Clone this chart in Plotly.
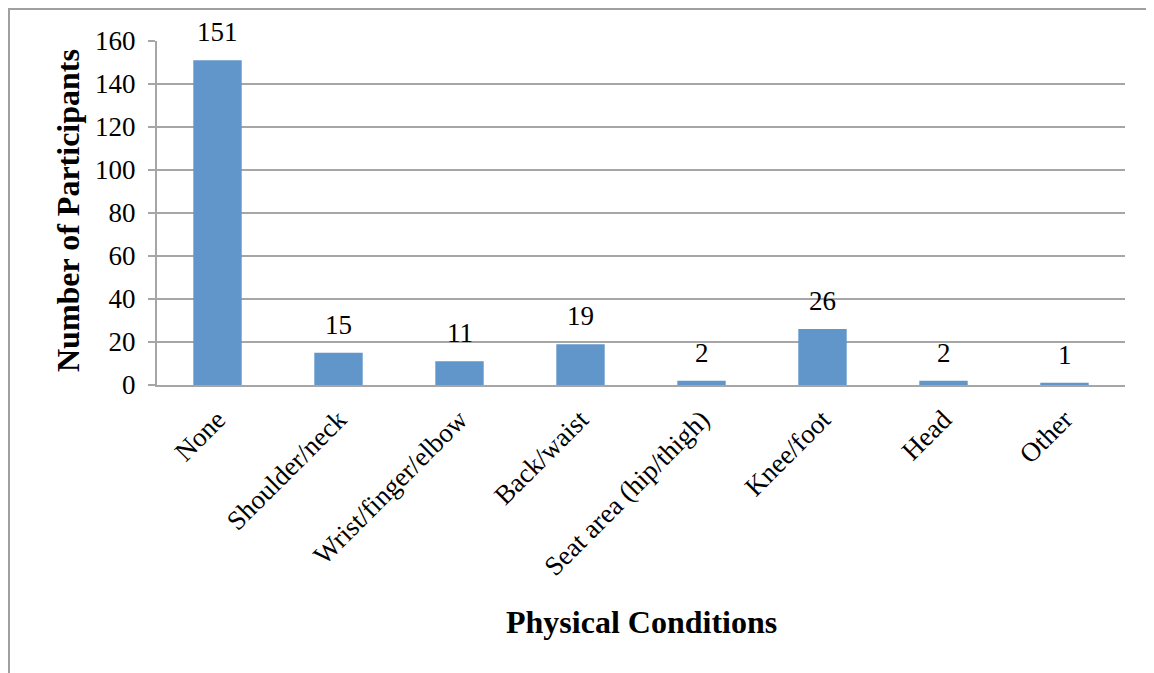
import plotly.graph_objects as go

categories = ["None", "Shoulder/neck", "Wrist/finger/elbow", "Back/waist",
              "Seat area (hip/thigh)", "Knee/foot", "Head", "Other"]
values = [151, 15, 11, 19, 2, 26, 2, 1]
y_ticks = [0, 20, 40, 60, 80, 100, 120, 140, 160]

FONT = "Liberation Serif, Times New Roman, serif"
GRID = "#a6a6a6"
BAR = "#6196ca"
OFF = 8  # page body margin

fig = go.Figure()
fig.add_trace(go.Bar(x=categories, y=values, marker=dict(color=BAR, line=dict(width=0)),
                     hoverinfo="x+y"))

for c, v in zip(categories, values):
    fig.add_annotation(x=c, y=v, text=str(v), showarrow=False, yanchor="middle",
                       yshift=28, font=dict(family=FONT, size=27, color="#000"))

W, H = 1146, 665
# screen-space plot area: left 157, right 1125, top 41, bottom 385
L = 157 - OFF
R = W + OFF - 1125
T = 41 - OFF
B = H + OFF - 385
pw, ph = W - L - R, H - T - B

def px(x):
    return (x - OFF - L) / pw

def py(y):
    return (H + OFF - B - y) / ph

fig.add_annotation(x=px(641), y=py(622), xref="paper", yref="paper",
                   xanchor="center", yanchor="middle",
                   text="<b>Physical Conditions</b>", showarrow=False,
                   font=dict(family=FONT, size=32, color="#000"))
fig.add_annotation(x=px(68), y=py(211), xref="paper", yref="paper",
                   xanchor="center", yanchor="middle",
                   text="<b>Number of Participants</b>", showarrow=False, textangle=-90,
                   font=dict(family=FONT, size=32, color="#000"))

# outer chart border (partially visible)
fig.add_shape(type="line", xref="paper", yref="paper", x0=px(9), x1=px(9), y0=py(9), y1=py(700),
              line=dict(color="#a0a0a0", width=2))
fig.add_shape(type="line", xref="paper", yref="paper", x0=px(8), x1=px(1160), y0=py(9), y1=py(9),
              line=dict(color="#a0a0a0", width=2))

fig.update_layout(
    width=W, height=H,
    margin=dict(l=L, r=R, t=T, b=B, autoexpand=False),
    paper_bgcolor="white", plot_bgcolor="white",
    bargap=0.6, showlegend=False,
    font=dict(family=FONT, size=27, color="#000"),
    xaxis=dict(tickangle=-45, showgrid=False, showline=True, linecolor=GRID, linewidth=2,
               ticks="", ticklabelstandoff=6,
               tickfont=dict(family=FONT, size=27, color="#000")),
    yaxis=dict(range=[0, 160], tickvals=y_ticks, showgrid=True, gridcolor=GRID, gridwidth=2,
               showline=True, linecolor=GRID, linewidth=2, ticks="outside", ticklen=7,
               tickcolor=GRID, tickwidth=2, zeroline=False, ticklabelstandoff=7,
               tickfont=dict(family=FONT, size=27, color="#000")),
)

fig.write_html("out.html")
